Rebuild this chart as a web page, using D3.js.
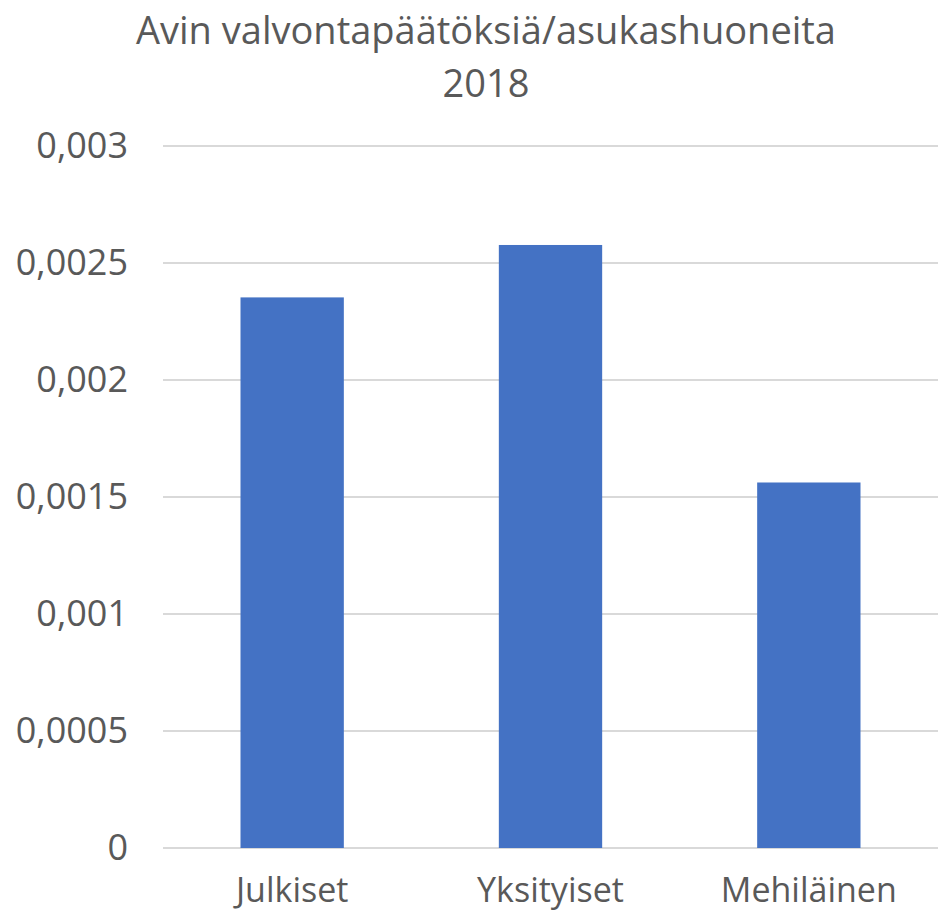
<!DOCTYPE html>
<html>
<head>
<meta charset="utf-8">
<script src="https://cdn.jsdelivr.net/npm/d3@7"></script>
<style>
  body { margin: 0; background: #fff; }
  text { font-family: "Open Sans", "Noto Sans", sans-serif; fill: #595959; }
</style>
</head>
<body>
<div id="chart"></div>
<script>
const titleLines = ["Avin valvontapäätöksiä/asukashuoneita", "2018"]
const categories = ["Julkiset", "Yksityiset", "Mehiläinen"]
const values = [0.002353, 0.002577, 0.001562]
const yTicks = [0, 0.0005, 0.001, 0.0015, 0.002, 0.0025, 0.003]
const yTickLabels = ["0", "0,0005", "0,001", "0,0015", "0,002", "0,0025", "0,003"]

const width = 948, height = 914
const margin = { top: 146, right: 10, bottom: 66, left: 163 }

const svg = d3.select("#chart")
    .append("svg")
    .attr("width", width)
    .attr("height", height)

const x = d3.scaleBand()
    .domain(categories)
    .range([margin.left, width - margin.right])
    .paddingInner(0.6)
    .paddingOuter(0.3)

const y = d3.scaleLinear()
    .domain([0, 0.003])
    .range([height - margin.bottom, margin.top])

// Title
svg.append("text")
    .attr("x", 486)
    .attr("text-anchor", "middle")
    .style("font-size", "38px")
    .selectAll("tspan")
    .data(titleLines)
    .join("tspan")
    .attr("x", 486)
    .attr("y", (d, i) => 44 + i * 53)
    .text(d => d)

// gridlines
svg.append("g")
    .selectAll("line")
    .data(yTicks)
    .join("line")
    .attr("x1", margin.left)
    .attr("x2", width - margin.right)
    .attr("y1", d => y(d))
    .attr("y2", d => y(d))
    .style("stroke", "#d9d9d9")
    .style("stroke-width", "2px")

// y axis
const yAxis = d3.axisLeft(y)
    .tickValues(yTicks)
    .tickFormat((d, i) => yTickLabels[i])
    .tickSize(0)
    .tickPadding(35)

svg.append("g")
    .attr("transform", `translate(${margin.left},0)`)
    .call(yAxis)
    .call(g => g.select(".domain").remove())
    .selectAll("text")
    .style("font-size", "36px")
    .style("fill", "#595959")

// bars
svg.append("g")
    .selectAll("rect")
    .data(values)
    .join("rect")
    .attr("x", (d, i) => x(categories[i]))
    .attr("y", d => y(d))
    .attr("width", x.bandwidth())
    .attr("height", d => y(0) - y(d))
    .attr("fill", "#4472c4")

// x axis
const xAxis = d3.axisBottom(x)
    .tickSize(0)
    .tickPadding(30)

svg.append("g")
    .attr("transform", `translate(0,${y(0)})`)
    .call(xAxis)
    .call(g => g.select(".domain").remove())
    .selectAll("text")
    .style("font-size", "34px")
    .style("fill", "#595959")
</script>
</body>
</html>
